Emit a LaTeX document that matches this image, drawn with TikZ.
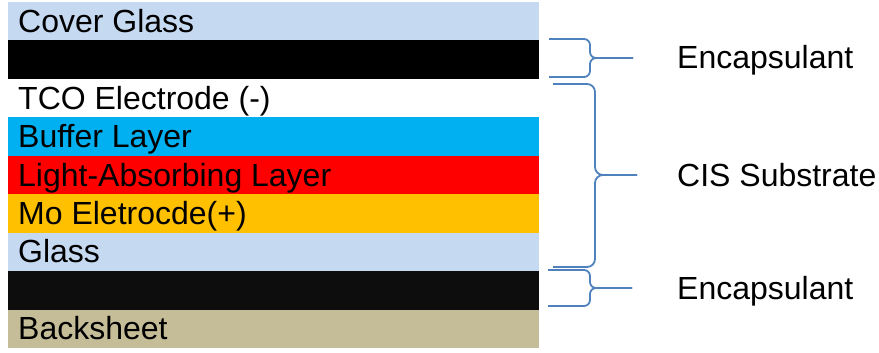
\documentclass[tikz,border=0pt]{standalone}
\usepackage{fontspec}
\setmainfont{Liberation Sans}
\definecolor{lyGlass}{HTML}{C5D9F1}
\definecolor{lyBlack}{HTML}{000000}
\definecolor{lyBlackB}{HTML}{0D0D0D}
\definecolor{lyBuffer}{HTML}{00B0F0}
\definecolor{lyRed}{HTML}{FF0000}
\definecolor{lyMo}{HTML}{FFC000}
\definecolor{lyBack}{HTML}{C4BD97}
\definecolor{brBlue}{HTML}{4F81BD}
\usetikzlibrary{positioning}

\begin{document}
\begin{tikzpicture}[x=1pt, y=-1pt,
  lbl/.style={font=\fontsize{32}{38}\selectfont, inner sep=0pt, anchor=base west},
  brace/.style={draw=brBlue, line width=1.8pt, rounded corners=6pt}]
  \useasboundingbox (0,0) rectangle (879,353);

  % layer stack
  \foreach \col/\txt [count=\i from 0] in {lyGlass/Cover Glass, lyBlack/{}, white/TCO Electrode (-),
      lyBuffer/Buffer Layer, lyRed/Light-Absorbing Layer, lyMo/Mo Eletrocde(+),
      lyGlass/Glass, lyBlackB/{}, lyBack/Backsheet} {
    \fill[\col] (8, 2+38.45*\i) rectangle (539, 2+38.45*\i+38.45);
    \node[lbl] (layer\i) at (18, 2+38.45*\i+30.2) {\txt};
  }

  % braces
  \coordinate (tipTop) at (633,58);
  \coordinate (tipCIS) at (637,175);
  \coordinate (tipBot) at (632,288);
  \draw[brace] (549,39) -| (590,58) -- (tipTop);
  \draw[brace] (549,77) -| (590,58) -- (tipTop);
  \draw[brace, rounded corners=8pt] (553,84) -| (595,175) -- (tipCIS);
  \draw[brace, rounded corners=8pt] (553,267) -| (595,175) -- (tipCIS);
  \draw[brace] (548,270) -| (590,288) -- (tipBot);
  \draw[brace] (548,306) -| (590,288) -- (tipBot);

  \node[lbl] (encTop) at ([shift={(44,11)}]tipTop) {Encapsulant};
  \node[lbl] (cis) at ([shift={(40,11)}]tipCIS) {CIS Substrate};
  \node[lbl] (encBot) at ([shift={(45,11)}]tipBot) {Encapsulant};
\end{tikzpicture}
\end{document}
